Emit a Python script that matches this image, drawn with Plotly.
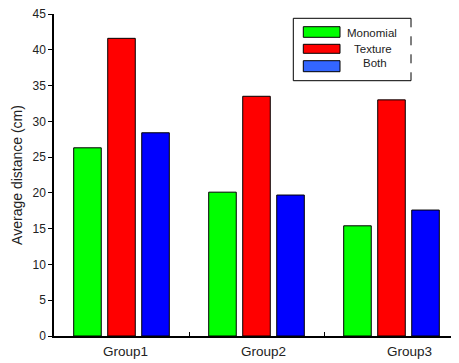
import plotly.graph_objects as go

groups = ["Group1", "Group2", "Group3"]
series_names = ["Monomial", "Texture", "Both"]
monomial = [26.3, 20.1, 15.4]
texture = [41.6, 33.5, 33.0]
both = [28.4, 19.7, 17.6]
bar_colors = ["#00FF00", "#FF0000", "#0000FF"]
legend_colors = ["#00FF00", "#FF0000", "#3366FF"]
y_ticks = [0, 5, 10, 15, 20, 25, 30, 35, 40, 45]
label_shift = [4, 7, 18]  # category labels sit slightly right of the group centres

OFF = 8  # default page body margin
W, H = 459 - OFF, 363 - OFF
L, R, T, B = 54 - OFF, 0, 14 - OFF, 27

fig = go.Figure()
for name, vals, col in zip(series_names, [monomial, texture, both], bar_colors):
    fig.add_trace(go.Bar(x=groups, y=vals, name=name, marker=dict(color=col, line=dict(color="black", width=1)),
                         showlegend=False))

font = dict(family="Liberation Sans, Arial, sans-serif", size=12, color="#222")

fig.update_layout(
    width=W, height=H,
    margin=dict(l=L, r=R, t=T, b=B, autoexpand=False),
    plot_bgcolor="white", paper_bgcolor="white",
    barmode="group", bargap=0.244, bargroupgap=0.19,
    font=font,
    xaxis=dict(range=[-0.5, 2.5], showline=True, linecolor="black", linewidth=1.5,
               ticks="inside", tickson="boundaries", ticklen=4, tickcolor="black",
               showgrid=False, zeroline=False, showticklabels=False, automargin=False),
    yaxis=dict(range=[0, 45], tickvals=y_ticks, showline=True, linecolor="black", linewidth=1.5,
               ticks="outside", ticklen=4, tickcolor="black", showgrid=False, zeroline=False,
               tickfont=dict(size=12, color="#222"), automargin=False, ticklabeloverflow="allow",
               title=dict(text="Average distance (cm)", font=dict(size=14, color="#222"), standoff=7)),
)

annotations = []
for g, s in zip(groups, label_shift):
    annotations.append(dict(xref="x", yref="paper", x=g, y=0, yanchor="middle", xanchor="center",
                            yshift=-15, xshift=s, text=g, showarrow=False,
                            font=dict(size=13.5, color="#222")))

# manual legend in page pixel -> paper coords
def px(x):
    return (x - OFF - L) / (W - L - R)

def py(y):
    return 1 - (y - OFF - T) / (H - T - B)

bx0, bx1, by0, by1 = 293.3, 411.0, 18.3, 80.7
shapes = []
for (x0, y0, x1, y1, dash) in [
    (bx0, by0, bx1, by0, "solid"), (bx0, by1, bx1, by1, "solid"),
    (bx0, by0, bx0, by1, "solid"), (bx1, by0, bx1, by1, "dash")]:
    shapes.append(dict(type="line", xref="paper", yref="paper", x0=px(x0), y0=py(y0), x1=px(x1), y1=py(y1),
                       line=dict(color="black", width=1, dash=dash)))
rows = [(26.7, 37.3, 32.7, 372), (44.3, 53.3, 49.3, 373), (60.7, 71.7, 63.3, 375)]
for (y0, y1, ty, tx), name, col in zip(rows, series_names, legend_colors):
    shapes.append(dict(type="rect", xref="paper", yref="paper", x0=px(303.3), x1=px(340), y0=py(y1), y1=py(y0),
                       fillcolor=col, line=dict(color="black", width=1)))
    annotations.append(dict(xref="paper", yref="paper", x=px(tx), y=py(ty), text=name, showarrow=False,
                            xanchor="center", yanchor="middle", font=dict(size=11.5, color="#222")))
fig.update_layout(shapes=shapes, annotations=annotations)

fig.write_html("out.html")
